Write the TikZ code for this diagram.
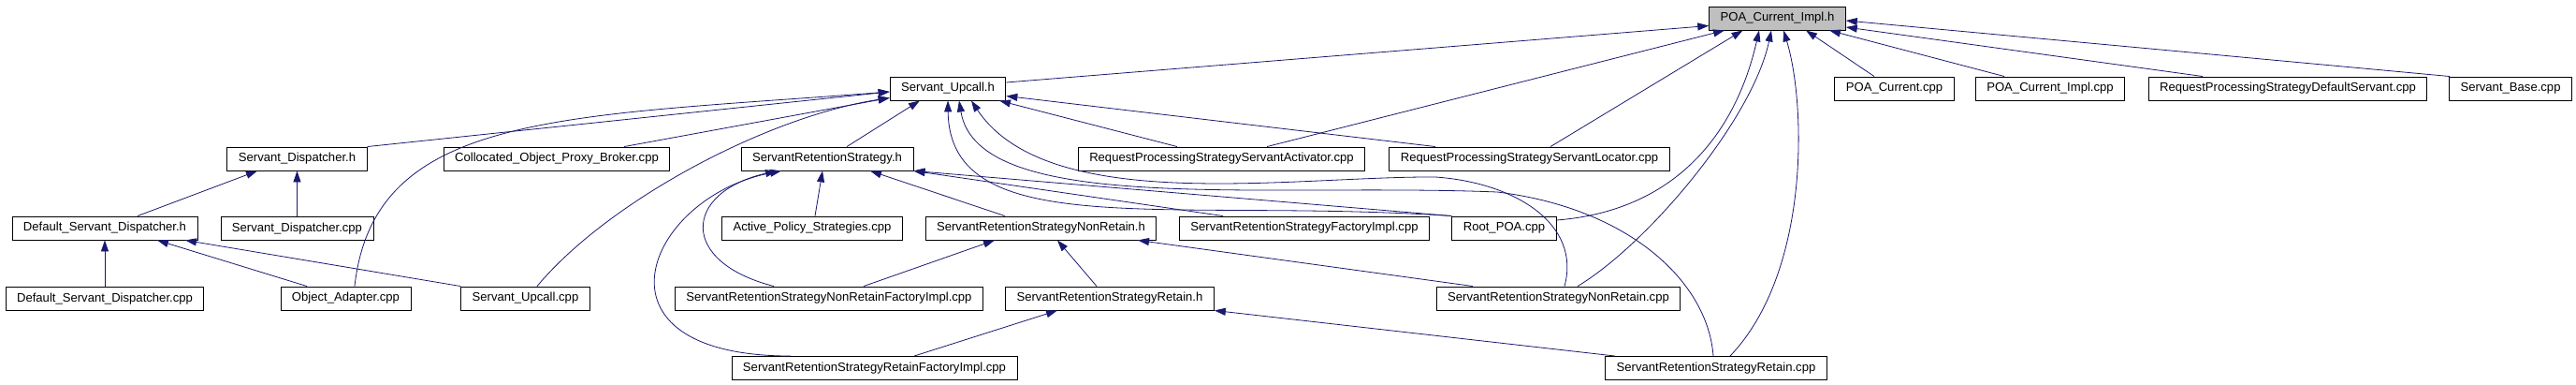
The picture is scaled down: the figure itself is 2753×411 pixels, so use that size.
\documentclass[tikz,border=0pt]{standalone}
\usepackage{fontspec}
\usepackage{xcolor}
\usepackage{tikz}
\usetikzlibrary{positioning,arrows.meta}
\newfontfamily\dotfont{Liberation Sans}
\definecolor{edgeblue}{RGB}{25,25,112}
\definecolor{rootgray}{RGB}{191,191,191}

\begin{document}
\begin{tikzpicture}[x=1pt, y=-1pt,
    filenode/.style={rectangle, draw=black, fill=white, line width=0.9pt, minimum height=25pt, inner xsep=12pt, inner ysep=0pt, font=\dotfont\fontsize{13.1}{15}\selectfont},
    rootnode/.style={filenode, fill=rootgray},
    dep/.style={-{Triangle[length=12pt, width=8pt]}, draw=edgeblue, line width=0.8pt}
]
\useasboundingbox (0,0) rectangle (2753,411);
\node[rootnode](poah) at (1899.5,19.5){POA\_Current\_Impl.h};
\node[filenode](suh) at (1013,94.5){Servant\_Upcall.h};
\node[filenode](poacur) at (2024.5,94.5){POA\_Current.cpp};
\node[filenode](poaimpl) at (2191,94.5){POA\_Current\_Impl.cpp};
\node[filenode](rpsdef) at (2445,94.5){RequestProcessingStrategyDefaultServant.cpp};
\node[filenode](base) at (2683,94.5){Servant\_Base.cpp};
\node[filenode](sdh) at (317.5,169.5){Servant\_Dispatcher.h};
\node[filenode](copb) at (595,169.5){Collocated\_Object\_Proxy\_Broker.cpp};
\node[filenode](srsh) at (884,169.5){ServantRetentionStrategy.h};
\node[filenode](rpsact) at (1305.5,169.5){RequestProcessingStrategyServantActivator.cpp};
\node[filenode](rpsloc) at (1634.5,169.5){RequestProcessingStrategyServantLocator.cpp};
\node[filenode](dsdh) at (112,243.5){Default\_Servant\_Dispatcher.h};
\node[filenode](sdcpp)[below=49pt of sdh]{Servant\_Dispatcher.cpp};
\node[filenode](aps) at (868,243.5){Active\_Policy\_Strategies.cpp};
\node[filenode](srsnrh) at (1112.5,243.5){ServantRetentionStrategyNonRetain.h};
\node[filenode](srsfi) at (1394,243.5){ServantRetentionStrategyFactoryImpl.cpp};
\node[filenode](rootpoa) at (1607.5,243.5){Root\_POA.cpp};
\node[filenode](dsdcpp)[below=50pt of dsdh]{Default\_Servant\_Dispatcher.cpp};
\node[filenode](oa) at (369.5,318.5){Object\_Adapter.cpp};
\node[filenode](sucpp) at (561.5,318.5){Servant\_Upcall.cpp};
\node[filenode](srsnrfi) at (886,318.5){ServantRetentionStrategyNonRetainFactoryImpl.cpp};
\node[filenode](srsrh) at (1186,318.5){ServantRetentionStrategyRetain.h};
\node[filenode](srsnrcpp) at (1665.5,318.5){ServantRetentionStrategyNonRetain.cpp};
\node[filenode](srsrfi) at (934.5,393){ServantRetentionStrategyRetainFactoryImpl.cpp};
\node[filenode](srsrcpp) at (1834,393){ServantRetentionStrategyRetain.cpp};
\draw[dep] ([shift={(0,-6.5)}]suh.east) -- ([shift={(0,8)}]poah.west);
\draw[dep] ([xshift=48.5pt]rpsact.north) -- ([xshift=-56.5pt]poah.south);
\draw[dep] ([xshift=22.5pt]rpsloc.north) -- ([xshift=-37pt]poah.south);
\draw[dep] ([shift={(0,-8.5)}]rootpoa.east) .. controls +(127,-10) and +(-25,110) .. ([xshift=-19.5pt]poah.south);
\draw[dep] ([xshift=20.5pt]srsnrcpp.north) .. controls +(75,-45) and +(-20,95) .. ([xshift=-6.5pt]poah.south);
\draw[dep] ([xshift=15pt]srsrcpp.north) .. controls +(86,-90) and +(24,78) .. ([xshift=6.5pt]poah.south);
\draw[dep] ([xshift=-21.5pt]poacur.north) -- ([xshift=30.5pt]poah.south);
\draw[dep] ([xshift=-49pt]poaimpl.north) -- ([xshift=55.5pt]poah.south);
\draw[dep] ([xshift=-91pt]rpsdef.north) -- ([shift={(0,9.5)}]poah.east);
\draw[dep] ([xshift=1pt]base.north west) -- ([shift={(0,2.5)}]poah.east);
\draw[dep] (sdh.north east) -- ([shift={(0,3.5)}]suh.west);
\draw[dep] ([xshift=72pt]copb.north) -- ([shift={(0,10)}]suh.west);
\draw[dep] ([xshift=9.5pt]oa.north) .. controls +(21,-186) and +(-351,27) .. ([shift={(0,3.5)}]suh.west);
\draw[dep] ([xshift=12.5pt]sucpp.north) .. controls +(76,-91) and +(-131,20) .. ([shift={(0,10)}]suh.west);
\draw[dep] ([xshift=21pt]srsh.north) -- ([xshift=-30pt]suh.south);
\draw[dep] ([xshift=-47.5pt]rpsact.north) -- ([xshift=55pt]suh.south);
\draw[dep] ([xshift=-100.5pt]rpsloc.north) -- ([shift={(0,8)}]suh.east);
\draw[dep] (rootpoa.north west) .. controls +(-300,-20) and +(2,153) .. (suh.south);
\draw[dep] ([xshift=-3pt]srsrcpp.north) .. controls +(-6,-80) and +(140,17) .. (1600,205) .. controls +(-250,-10) and +(20,123) .. ([xshift=12pt]suh.south);
\draw[dep] ([xshift=6.5pt]srsnrcpp.north) .. controls +(18,-66) and +(86,6) .. (1534,189) .. controls +(-154,-1) and +(82,123) .. ([xshift=25pt]suh.south);
\draw[dep] ([xshift=3pt]aps.north) -- ([xshift=-5pt]srsh.south);
\draw[dep] ([xshift=-38.5pt]srsnrh.north) -- ([xshift=46pt]srsh.south);
\draw[dep] ([xshift=-59pt]srsnrfi.north) .. controls +(-102,-26) and +(-100,23) .. ([xshift=-54pt]srsh.south);
\draw[dep] ([xshift=-89.5pt]srsrfi.north) .. controls +(-225,0) and +(-145,28) .. ([xshift=-49pt]srsh.south);
\draw[dep] ([xshift=-87pt]srsfi.north) -- (srsh.south east);
\draw[dep] (rootpoa.north west) -- (srsh.south east);
\draw[dep] ([xshift=37pt]srsnrfi.north) -- ([xshift=-49.5pt]srsnrh.south);
\draw[dep] ([xshift=-14pt]srsrh.north) -- ([xshift=17.5pt]srsnrh.south);
\draw[dep] ([xshift=-91.5pt]srsnrcpp.north) -- ([xshift=103.5pt]srsnrh.south);
\draw[dep] ([xshift=42.5pt]srsrfi.north) -- ([xshift=-56pt]srsrh.south);
\draw[dep] ([xshift=-108pt]srsrcpp.north) -- (srsrh.south east);
\draw[dep] ([xshift=35pt]dsdh.north) -- ([xshift=-42.5pt]sdh.south);
\draw[dep] (sdcpp.north) -- (sdh.south);
\draw[dep] (dsdcpp.north) -- (dsdh.south);
\draw[dep] ([xshift=-41.5pt]oa.north) -- ([xshift=56pt]dsdh.south);
\draw[dep] (sucpp.north west) -- ([xshift=86pt]dsdh.south);
\end{tikzpicture}
\end{document}
